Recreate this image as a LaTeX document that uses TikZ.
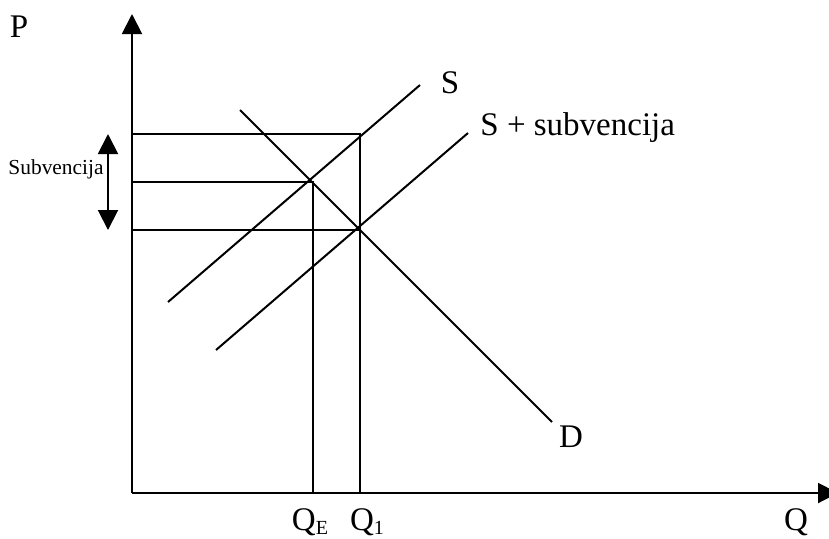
\documentclass[tikz,border=0pt]{standalone}
\usepackage{fontspec}
\setmainfont{Liberation Serif}
\usetikzlibrary{arrows.meta,positioning}
\tikzset{
  axis line/.style={
    -{Triangle[length=10pt,width=10pt]},
    line width=1pt
  },
  curve line/.style={
    line width=1pt
  },
  guide line/.style={
    line width=0.9pt
  },
  big label/.style={
    font=\fontsize{16.5}{18}\selectfont,
    inner sep=0pt,
    anchor=base
  },
  small label/.style={
    font=\fontsize{10.7}{12}\selectfont,
    inner sep=0pt,
    anchor=base
  }
}
\newcommand{\lowsub}[1]{\raisebox{-2pt}{\fontsize{10}{12}\selectfont #1}}

\begin{document}
\begin{tikzpicture}[x=0.5pt,y=-0.5pt]
  \useasboundingbox (0,0) rectangle (829,538);

  % Axes
  \coordinate (O) at (132,493);
  \coordinate (ptop) at (132,14);
  \coordinate (qend) at (838,493);
  \draw[axis line] (O) -- (ptop);
  \draw[axis line] (O) -- (qend);
  \node[big label] (plab) at (19,37) {P};
  \node[big label] (qlab) at (796,530) {Q};

  % Curves
  \coordinate (s1) at (168,302);
  \coordinate (s2) at (420,85);
  \coordinate (t1) at (216,350);
  \coordinate (t2) at (468,133);
  \coordinate (d1) at (240,110);
  \coordinate (d2) at (552,422);
  \draw[curve line] (s1) -- (s2);
  \draw[curve line] (t1) -- (t2);
  \draw[curve line] (d1) -- (d2);
  \node[big label] (slab) at (450,93) {S};
  \node[big label, anchor=base west] (tlab) at (480,135) {S + subvencija};
  \node[big label] (dlab) at (571,447) {D};

  % Price and quantity lines
  \coordinate (ps) at (132,134);
  \coordinate (pe) at (132,182);
  \coordinate (pd) at (132,230);
  \coordinate (a) at (360,134);
  \coordinate (e) at (313,182);
  \coordinate (b) at (360,230);
  \coordinate (qe) at (313,493);
  \coordinate (q1) at (360,493);
  \draw[guide line] (ps) -- (a) -- (q1);
  \draw[guide line] (pe) -- (e) -- (qe);
  \draw[guide line] (pd) -- (b);
  \node[big label] (qelab) at (310,530) {Q\lowsub{E}};
  \node[big label] (q1lab) at (367,530) {Q\lowsub{1}};

  % Subsidy
  \coordinate (u1) at (108,134);
  \coordinate (u2) at (108,230);
  \draw[axis line, {Triangle[length=10pt,width=10pt]}-{Triangle[length=10pt,width=10pt]}] (u1) -- (u2);
  \node[small label] (ulab) at (56,174) {Subvencija};
\end{tikzpicture}
\end{document}
